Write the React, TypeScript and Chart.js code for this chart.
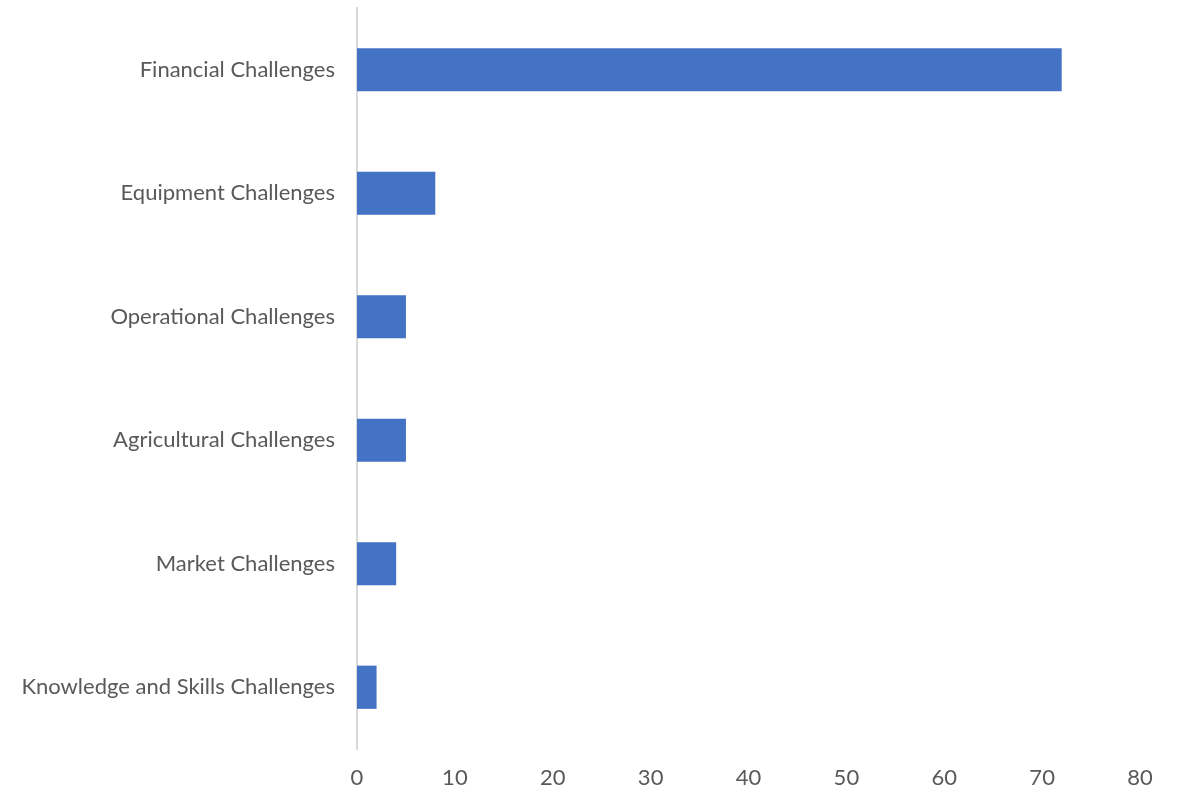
import React, { useEffect, useRef } from "react";
import { Chart, registerables } from "chart.js";

Chart.register(...registerables);

const categories = [
  "Financial Challenges",
  "Equipment Challenges",
  "Operational Challenges",
  "Agricultural Challenges",
  "Market Challenges",
  "Knowledge and Skills Challenges",
];
const values = [72, 8, 5, 5, 4, 2];
const xMin = 0;
const xMax = 80;
const xStep = 10;

export default function App() {
  const ref = useRef<HTMLCanvasElement | null>(null);
  useEffect(() => {
    if (!ref.current) return;
    const font = { family: "Lato, 'Open Sans', sans-serif", size: 22 };
    const chart = new Chart(ref.current, {
      type: "bar",
      data: {
        labels: categories,
        datasets: [
          {
            data: values,
            backgroundColor: "#4472C4",
            barPercentage: 0.35,
            categoryPercentage: 1,
          },
        ],
      },
      options: {
        indexAxis: "y",
        animation: false,
        responsive: true,
        maintainAspectRatio: false,
        layout: { padding: { top: 8, right: 41, left: 0, bottom: 0 } },
        plugins: { legend: { display: false }, tooltip: { enabled: false } },
        scales: {
          x: {
            min: xMin,
            max: xMax,
            ticks: { stepSize: xStep, color: "#595959", font, padding: 16 },
            grid: { display: false, drawTicks: false },
            border: { display: false },
            afterFit: (s: any) => {
              s.height = 43;
              s.paddingLeft = 0;
              s.paddingRight = 0;
            },
          },
          y: {
            ticks: { color: "#595959", font, padding: 22 },
            grid: { display: false, drawTicks: false },
            border: { display: true, color: "#d9d9d9", width: 2 },
            afterFit: (s: any) => {
              s.width = 357;
              s.paddingTop = 0;
              s.paddingBottom = 0;
            },
          },
        },
      },
    });
    return () => chart.destroy();
  }, []);
  return (
    <div style={{ position: "fixed", left: 0, top: 0, width: 1181, height: 792, background: "#fff" }}>
      <canvas ref={ref} />
    </div>
  );
}
